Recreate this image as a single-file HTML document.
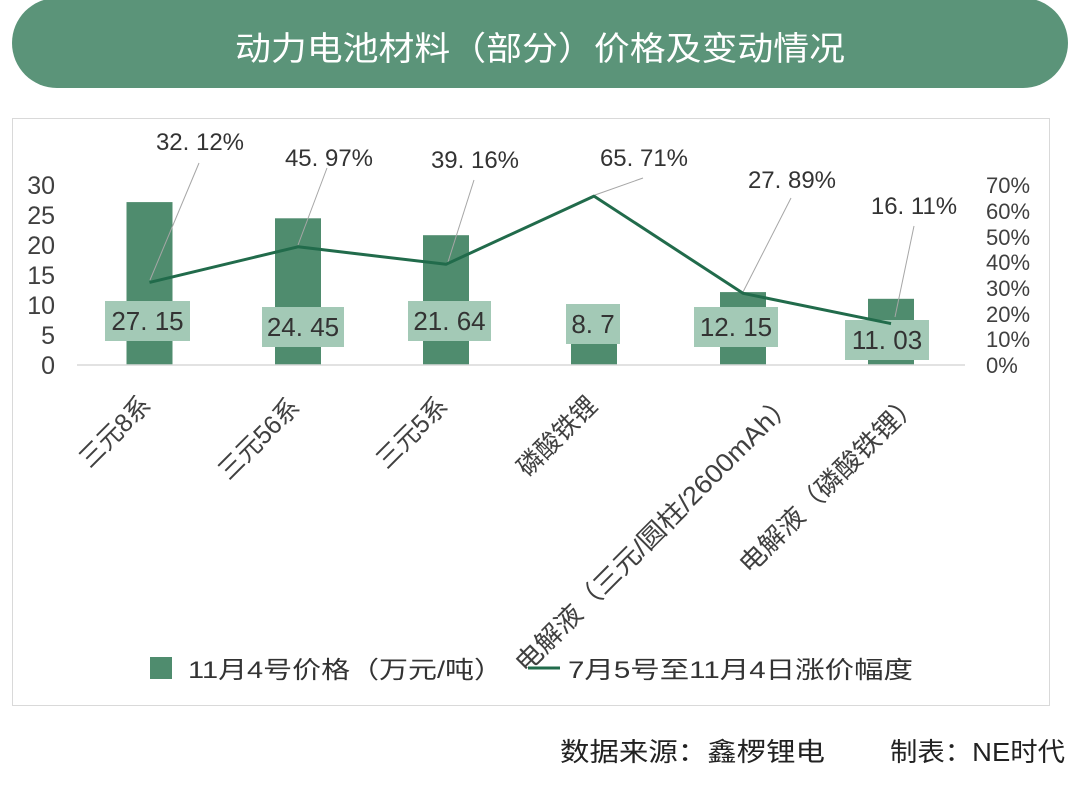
<!DOCTYPE html>
<html>
<head>
<meta charset="utf-8">
<style>
html,body{margin:0;padding:0;background:#fff;}
body{width:1080px;height:801px;overflow:hidden;}
svg{display:block;}
text{font-family:"Liberation Sans","Noto Sans CJK SC",sans-serif;}
</style>
</head>
<body>
<svg width="1080" height="801" viewBox="0 0 1080 801" xmlns="http://www.w3.org/2000/svg">
  <!-- title banner -->
  <rect x="12" y="-2" width="1056" height="90" rx="45" ry="45" fill="#5b9479"/>
  <text x="235" y="60" font-size="33" fill="#ffffff" textLength="610" lengthAdjust="spacingAndGlyphs">动力电池材料（部分）价格及变动情况</text>

  <!-- chart frame -->
  <rect x="12.5" y="118.5" width="1037" height="587" fill="none" stroke="#d9d9d9" stroke-width="1"/>

  <!-- left axis labels -->
  <g font-size="25" fill="#404040" text-anchor="end">
    <text x="55" y="194">30</text>
    <text x="55" y="224">25</text>
    <text x="55" y="254">20</text>
    <text x="55" y="284">15</text>
    <text x="55" y="314">10</text>
    <text x="55" y="344">5</text>
    <text x="55" y="374">0</text>
  </g>
  <!-- right axis labels -->
  <g font-size="22" fill="#404040">
    <text x="986" y="193">70%</text>
    <text x="986" y="219">60%</text>
    <text x="986" y="245">50%</text>
    <text x="986" y="270">40%</text>
    <text x="986" y="296">30%</text>
    <text x="986" y="322">20%</text>
    <text x="986" y="347">10%</text>
    <text x="986" y="373">0%</text>
  </g>

  <!-- bars -->
  <g fill="#4f8c6e">
    <rect x="126.5" y="202.1" width="46" height="162.9"/>
    <rect x="275" y="218.3" width="46" height="146.7"/>
    <rect x="423" y="235.2" width="46" height="129.8"/>
    <rect x="571" y="312.8" width="46" height="52.2"/>
    <rect x="720" y="292.1" width="46" height="72.9"/>
    <rect x="868" y="298.8" width="46" height="66.2"/>
  </g>

  <!-- axis line -->
  <line x1="77" y1="365" x2="965" y2="365" stroke="#d9d9d9" stroke-width="1.5"/>

  <!-- bar data label boxes -->
  <g fill="#a3c9b6">
    <rect x="105" y="301" width="85" height="40"/>
    <rect x="262" y="307" width="82" height="40"/>
    <rect x="408" y="301" width="83" height="40"/>
    <rect x="566" y="304" width="54" height="40"/>
    <rect x="694" y="307" width="84" height="40"/>
    <rect x="845" y="320" width="84" height="40"/>
  </g>
  <g font-size="26" fill="#333333" text-anchor="middle">
    <text x="147.5" y="330">27. 15</text>
    <text x="303" y="336">24. 45</text>
    <text x="449.5" y="330">21. 64</text>
    <text x="593" y="333">8. 7</text>
    <text x="736" y="336">12. 15</text>
    <text x="887" y="349">11. 03</text>
  </g>

  <!-- leader lines -->
  <g stroke="#a6a6a6" stroke-width="1" fill="none">
    <line x1="199" y1="163" x2="150" y2="280"/>
    <line x1="327" y1="168" x2="298" y2="245"/>
    <line x1="474" y1="180" x2="448" y2="262"/>
    <line x1="643" y1="178" x2="595" y2="195"/>
    <line x1="791" y1="198" x2="743" y2="292"/>
    <line x1="914" y1="226" x2="895" y2="317"/>
  </g>

  <!-- line series -->
  <polyline points="149.5,282.4 298,246.8 446,264.3 594,196.1 743,293.3 891,323.6" fill="none" stroke="#216b4b" stroke-width="3" stroke-linejoin="round"/>

  <!-- percent labels -->
  <g font-size="24" fill="#333333" text-anchor="middle">
    <text x="200" y="150">32. 12%</text>
    <text x="329" y="166">45. 97%</text>
    <text x="475" y="168">39. 16%</text>
    <text x="644" y="166">65. 71%</text>
    <text x="792" y="188">27. 89%</text>
    <text x="914" y="214">16. 11%</text>
  </g>

  <!-- legend -->
  <rect x="150" y="657" width="22" height="22" fill="#4f8c6e"/>
  <text x="188" y="678" font-size="24" fill="#333333" textLength="315" lengthAdjust="spacingAndGlyphs">11月4号价格（万元/吨）</text>
  <line x1="528" y1="668" x2="560" y2="668" stroke="#216b4b" stroke-width="3"/>
  <text x="568" y="678" font-size="24" fill="#333333" textLength="345" lengthAdjust="spacingAndGlyphs">7月5号至11月4日涨价幅度</text>

  <!-- category labels (rotated -45) -->
  <g font-size="26" fill="#404040">
    <text transform="translate(90,469) rotate(-45)" textLength="88" lengthAdjust="spacingAndGlyphs">三元8系</text>
    <text transform="translate(229,481) rotate(-45)" textLength="102" lengthAdjust="spacingAndGlyphs">三元56系</text>
    <text transform="translate(387,470) rotate(-45)" textLength="88" lengthAdjust="spacingAndGlyphs">三元5系</text>
    <text transform="translate(528,478) rotate(-45)" textLength="100" lengthAdjust="spacingAndGlyphs">磷酸铁锂</text>
    <text transform="translate(526,674) rotate(-45)" textLength="382" lengthAdjust="spacingAndGlyphs">电解液（三元/圆柱/2600mAh）</text>
    <text transform="translate(750,575) rotate(-45)" textLength="242" lengthAdjust="spacingAndGlyphs">电解液（磷酸铁锂）</text>
  </g>

  <!-- source -->
  <text x="560" y="761" font-size="26" fill="#222222" textLength="265" lengthAdjust="spacingAndGlyphs">数据来源：鑫椤锂电</text>
  <text x="890" y="761" font-size="26" fill="#222222" textLength="175" lengthAdjust="spacingAndGlyphs">制表：NE时代</text>
</svg>
</body>
</html>
